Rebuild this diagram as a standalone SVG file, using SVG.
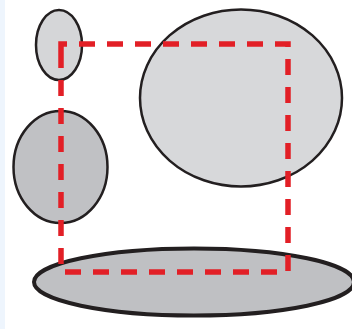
<svg xmlns="http://www.w3.org/2000/svg" width="352" height="329" viewBox="0 0 352 329">
<style>
.n{stroke:#231f20;stroke-width:2.5}
.c{fill:none;stroke:#e21f26;stroke-width:5.5;stroke-dasharray:16 12}
</style>
<rect x="0" y="0" width="352" height="329" fill="#fff"/>
<rect x="0" y="0" width="5" height="329" fill="#eef5fd"/>
<g id="n1"><ellipse class="n" cx="59" cy="45" rx="23" ry="35" fill="#d5d6d8"/></g>
<g id="n2"><ellipse class="n" cx="241" cy="98" rx="101" ry="88.5" fill="#d7d8da"/></g>
<g id="n3"><ellipse class="n" cx="60.5" cy="167" rx="47" ry="56" fill="#c0c1c4"/></g>
<g id="n4"><ellipse class="n" cx="194" cy="282" rx="160" ry="33.5" fill="#bfc0c3" style="stroke-width:4"/></g>
<g id="connectors"><path class="c" d="M61 54 V44 H288 V272 H61 Z"/></g>
</svg>
